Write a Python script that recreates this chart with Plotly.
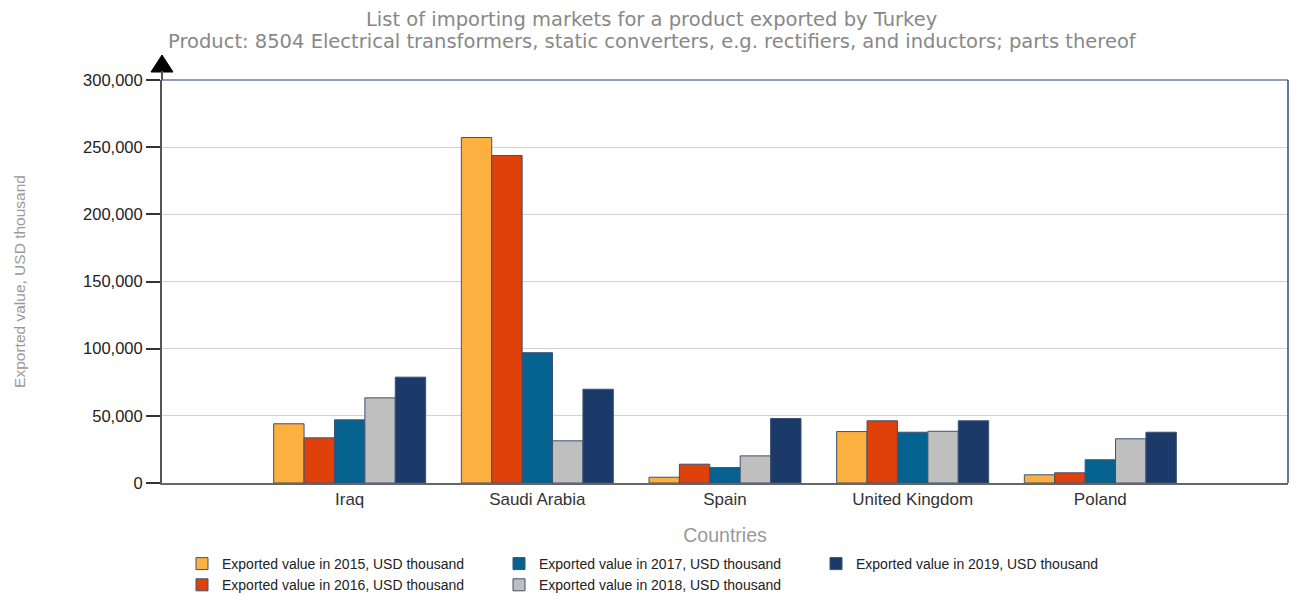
import plotly.graph_objects as go

countries = ["Iraq", "Saudi Arabia", "Spain", "United Kingdom", "Poland"]
years = ["2015", "2016", "2017", "2018", "2019"]
v2015 = [44100, 257200, 4300, 38300, 6100]
v2016 = [33600, 243800, 14000, 46300, 7600]
v2017 = [47000, 97000, 11500, 37800, 17300]
v2018 = [63400, 31400, 20200, 38500, 32900]
v2019 = [78800, 69800, 48000, 46300, 37800]
series = [v2015, v2016, v2017, v2018, v2019]
colors = ["#FBB040", "#E0400A", "#06628F", "#BFBFBF", "#1B3A69"]
ranks = [1, 4, 2, 5, 3]
title_lines = [
    "List of importing markets for a product exported by Turkey",
    "Product: 8504 Electrical transformers, static converters, e.g. rectifiers, and inductors; parts thereof",
]

# page body has an 8px margin, so the figure is 8px smaller each way
W, H = 1295, 588
L, R, T, B = 154, 15, 72, 113
plot_h = H - T - B

fig = go.Figure()
for y, vals, c, r in zip(years, series, colors, ranks):
    fig.add_trace(go.Bar(
        x=countries, y=vals, name=f"Exported value in {y}, USD thousand",
        marker=dict(color=c, line=dict(color="#3D5272", width=1)),
        legendrank=r,
    ))

title_font = dict(family="DejaVu Sans, Verdana", size=19.5, color="#888")
annotations = [
    dict(text=title_lines[0], xref="paper", yref="paper", x=(643 - L) / (W - L - R),
         y=1 + (T - 11) / plot_h, xanchor="center", yanchor="middle", showarrow=False, font=title_font),
    dict(text=title_lines[1], xref="paper", yref="paper", x=(644 - L) / (W - L - R),
         y=1 + (T - 33) / plot_h, xanchor="center", yanchor="middle", showarrow=False, font=title_font),
]

fig.update_layout(
    width=W, height=H,
    margin=dict(l=L, r=R, t=T, b=B, autoexpand=False),
    paper_bgcolor="white", plot_bgcolor="white",
    barmode="group", bargap=0.19, bargroupgap=0,
    font=dict(family="Arial, Liberation Sans", size=14, color="#222"),
    annotations=annotations,
    xaxis=dict(
        type="category", range=[-1, 5],
        showline=True, linecolor="#666", linewidth=2,
        showgrid=False, ticks="", tickfont=dict(size=17, color="#333"),
        title=dict(text="Countries", font=dict(size=19.5, color="#999"), standoff=20),
    ),
    yaxis=dict(
        range=[0, 300000], dtick=50000, tickformat=",",
        showline=True, linecolor="#555", linewidth=2,
        showgrid=True, gridcolor="#D3D3D3", gridwidth=1,
        ticks="outside", ticklen=14, tickcolor="#333", tickwidth=1.5,
        tickfont=dict(size=16.5, color="#222"),
        zeroline=False,
        title=dict(text="Exported value, USD thousand", font=dict(size=15.5, color="#999"), standoff=54),
    ),
    legend=dict(
        orientation="h", xref="container", yref="container",
        x=174 / W, y=1 - 540 / H, xanchor="left", yanchor="top",
        entrywidth=272, entrywidthmode="pixels",
        font=dict(size=14, color="#222"), traceorder="normal",
    ),
    shapes=[
        dict(type="line", xref="paper", yref="paper", x0=0, x1=1, y0=1, y1=1,
             line=dict(color="#6B7F9E", width=1.5)),
        dict(type="line", xref="paper", yref="paper", x0=1, x1=1, y0=0, y1=1,
             line=dict(color="#2B4A7E", width=1.5)),
        dict(type="path", xref="paper", yref="paper", xsizemode="pixel", ysizemode="pixel",
             xanchor=0, yanchor=1, path="M -11,8 L 11,8 L 0,25 Z",
             fillcolor="black", line=dict(color="black", width=1)),
        dict(type="line", xref="paper", yref="paper", xsizemode="pixel", ysizemode="pixel",
             xanchor=0, yanchor=1, x0=0, x1=0, y0=0, y1=9,
             line=dict(color="#555", width=2)),
    ],
)

fig.write_html("out.html")
